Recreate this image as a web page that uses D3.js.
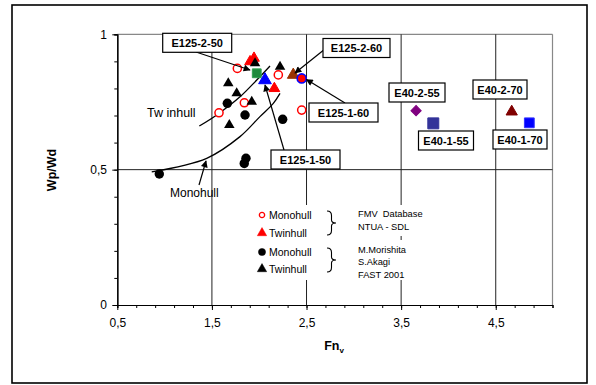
<!DOCTYPE html>
<html><head><meta charset="utf-8">
<script src="https://cdn.jsdelivr.net/npm/d3@7"></script>
<style>body{margin:0;background:#fff} svg{display:block;font-family:"Liberation Sans",Arial,sans-serif}</style>
</head><body><svg id="c" width="596" height="385"></svg>
<script>
// ---- data ----
const xTickValues = [0.5, 1.5, 2.5, 3.5, 4.5];
const xTickLabels = ["0,5", "1,5", "2,5", "3,5", "4,5"];
const yTickValues = [0, 0.5, 1];
const yTickLabels = ["0", "0,5", "1"];

const fmvMonohull = [[1.769,0.874],[2.202,0.850],[1.843,0.747],[1.575,0.710],[2.449,0.720]];
const fmvTwinhull = [[1.903,0.899],[1.945,0.912],[2.160,0.800]];
const morMonohull = [[1.663,0.745],[1.850,0.702],[2.248,0.686],[1.860,0.542],[1.842,0.523],[0.944,0.484]];
const morTwinhull = [[1.956,0.893],[2.220,0.880],[1.673,0.819],[1.762,0.782],[1.921,0.751],[1.684,0.665]];

const designNames = ["E125-2-50","E125-1-50","E125-2-60","E125-1-60","E40-2-55","E40-1-55","E40-2-70","E40-1-70"];
const designFn    = [1.974, 2.061, 2.360, 2.449, 3.658, 3.840, 4.669, 4.855];
const designWp    = [0.856, 0.831, 0.850, 0.837, 0.718, 0.671, 0.714, 0.673];

const twinCurve = [[1.367,0.661],[1.551,0.702],[1.797,0.769],[1.974,0.831],[2.114,0.883]];
const monoCurve = [[0.864,0.492],[1.445,0.542],[1.797,0.622],[2.008,0.696],[2.149,0.745],[2.220,0.782]];

// ---- styles / layout ----
const designStyle = [
  {shape:"square",  size:78,  fill:"#1e8a3c", stroke:"#2fa050"},
  {shape:"triangle",size:70,  fill:"#0000ff", stroke:"#0000ff"},
  {shape:"triangle",size:60,  fill:"#993300", stroke:"#993300"},
  {shape:"circle",  size:64,  fill:"#ff0000", stroke:"#0000ff"},
  {shape:"diamond", size:52,  fill:"#800080", stroke:"#800080"},
  {shape:"square",  size:120, fill:"#333399", stroke:"#333399"},
  {shape:"triangle",size:55,  fill:"#800000", stroke:"#800000"},
  {shape:"square",  size:96,  fill:"#0000ff", stroke:"#3333ff"}
];
const labelLayout = [
  {cx:197.2, cy:42.8, w:69, arrow:[196,52,250,70]},
  {cx:305.5, cy:159.5, w:69, arrow:[284,150,265,85]},
  {cx:356.5, cy:48, w:67, arrow:[325,49,295,73]},
  {cx:343.5, cy:112.5, w:69, arrow:[345,103,306.5,79.5]},
  {cx:417, cy:92.5, w:56},
  {cx:446, cy:140.5, w:55},
  {cx:500, cy:89.5, w:54},
  {cx:520, cy:139.5, w:54}
];

const svg = d3.select("#c");
const x = d3.scaleLinear().domain([0.5, 5.1]).range([117.3, 552.5]);
const y = d3.scaleLinear().domain([0, 1]).range([305, 34.3]);

// outer frame
svg.append("rect").attr("x",12).attr("y",5).attr("width",575).attr("height",378)
  .attr("fill","#fff").attr("stroke","#000").attr("stroke-width",1.6);

// arrow marker
const defs = svg.append("defs");
defs.append("marker").attr("id","ah").attr("viewBox","0 0 10 10").attr("refX",9).attr("refY",5)
  .attr("markerWidth",9).attr("markerHeight",7).attr("markerUnits","userSpaceOnUse").attr("orient","auto")
  .append("path").attr("d","M0,0L10,5L0,10z").attr("fill","#000");

// plot border (top/right) gray
svg.append("line").attr("x1",x(0.5)).attr("x2",x(5.1)).attr("y1",y(1)).attr("y2",y(1)).attr("stroke","#888").attr("stroke-width",1.2);
svg.append("line").attr("x1",x(5.1)).attr("x2",x(5.1)).attr("y1",y(1)).attr("y2",y(0)).attr("stroke","#888").attr("stroke-width",1.2);

// gridlines
svg.append("g").selectAll("line").data(xTickValues.slice(1)).join("line")
  .attr("x1",d=>x(d)).attr("x2",d=>x(d)).attr("y1",y(1)).attr("y2",y(0))
  .attr("stroke","#222").attr("stroke-width",1);
svg.append("line").attr("x1",x(0.5)).attr("x2",x(5.1)).attr("y1",y(0.5)).attr("y2",y(0.5))
  .attr("stroke","#222").attr("stroke-width",1);

// axes
const xMinor = d3.range(0.5, 5.1001, 0.2);
const gx = svg.append("g").attr("transform",`translate(0,${y(0)})`);
gx.call(d3.axisBottom(x).tickValues(xMinor).tickSize(3).tickFormat(""));
gx.append("g").call(d3.axisBottom(x).tickValues(xTickValues).tickSizeInner(5).tickSizeOuter(0)
  .tickFormat((d,i)=>xTickLabels[i]));
gx.selectAll(".domain").attr("stroke","#000").attr("stroke-width",1.2);
gx.selectAll("line").attr("stroke","#000");
gx.selectAll("text").attr("font-size",12).attr("fill","#000").attr("font-family","Liberation Sans, Arial, sans-serif").attr("dy","1.2em");

const yMinor = d3.range(0, 1.0001, 0.1);
const gy = svg.append("g").attr("transform",`translate(${x(0.5)},0)`);
gy.call(d3.axisLeft(y).tickValues(yMinor).tickSize(3).tickFormat(""));
gy.append("g").call(d3.axisLeft(y).tickValues(yTickValues).tickSizeInner(5).tickSizeOuter(0)
  .tickFormat((d,i)=>yTickLabels[i]));
gy.selectAll(".domain").attr("stroke","#000").attr("stroke-width",1.2);
gy.selectAll("line").attr("stroke","#000");
gy.selectAll("text").attr("font-size",12).attr("fill","#000").attr("font-family","Liberation Sans, Arial, sans-serif").attr("dx","-0.2em");

// axis titles
const fnT = svg.append("text").attr("x",334).attr("y",350).attr("text-anchor","middle")
  .attr("font-size",12.5).attr("font-weight","bold");
fnT.append("tspan").text("Fn");
fnT.append("tspan").attr("font-size",8).attr("dy",3).text("v");
svg.append("text").attr("transform","translate(56,170) rotate(-90)").attr("text-anchor","middle")
  .attr("font-size",12.5).attr("font-weight","bold").text("Wp/Wd");

// curves
const line = d3.line().x(d=>x(d[0])).y(d=>y(d[1])).curve(d3.curveCatmullRom.alpha(0.5));
[twinCurve, monoCurve].forEach(c=>{
  svg.append("path").attr("d",line(c)).attr("fill","none").attr("stroke","#000").attr("stroke-width",1.3);
});

// curve annotations
svg.append("text").attr("x",147).attr("y",117).attr("font-size",12.5).text("Tw inhull");
svg.append("text").attr("x",170).attr("y",197).attr("font-size",12).text("Monohull");
svg.append("line").attr("x1",199).attr("y1",185).attr("x2",206).attr("y2",161)
  .attr("stroke","#000").attr("stroke-width",1.2).attr("marker-end","url(#ah)");

// markers
const sym = (shape,size)=>{
  const t = shape==="circle"?d3.symbolCircle:shape==="triangle"?d3.symbolTriangle:d3.symbolSquare;
  return d3.symbol().type(t).size(size)();
};
const gm = svg.append("g");
gm.selectAll(".fm").data(fmvMonohull).join("path")
  .attr("d",sym("circle",52)).attr("transform",d=>`translate(${x(d[0])},${y(d[1])})`)
  .attr("fill","#fff").attr("stroke","#ff0000").attr("stroke-width",1.5);
gm.selectAll(".ft").data(fmvTwinhull).join("path")
  .attr("d",sym("triangle",50)).attr("transform",d=>`translate(${x(d[0])},${y(d[1])})`)
  .attr("fill","#ff0000").attr("stroke","#ff0000");
gm.selectAll(".mm").data(morMonohull).join("path")
  .attr("d",sym("circle",70)).attr("transform",d=>`translate(${x(d[0])},${y(d[1])})`)
  .attr("fill","#000");
gm.selectAll(".mt").data(morTwinhull).join("path")
  .attr("d",sym("triangle",48)).attr("transform",d=>`translate(${x(d[0])},${y(d[1])})`)
  .attr("fill","#000");
gm.selectAll(".dz").data(designNames).join("path")
  .attr("d",(d,i)=>sym(designStyle[i].shape,designStyle[i].size))
  .attr("transform",(d,i)=>`translate(${x(designFn[i])},${y(designWp[i])})`+(designStyle[i].shape==="diamond"?" rotate(45)":""))
  .attr("fill",(d,i)=>designStyle[i].fill).attr("stroke",(d,i)=>designStyle[i].stroke)
  .attr("stroke-width",(d,i)=>designStyle[i].shape==="circle"?1.6:1);

// label boxes with arrows
const gl = svg.append("g");
designNames.forEach((name,i)=>{
  const L = labelLayout[i];
  if (L.arrow) {
    gl.append("line").attr("x1",L.arrow[0]).attr("y1",L.arrow[1]).attr("x2",L.arrow[2]).attr("y2",L.arrow[3])
      .attr("stroke","#000").attr("stroke-width",1.2).attr("marker-end","url(#ah)");
  }
  gl.append("rect").attr("x",L.cx-L.w/2).attr("y",L.cy-9.5).attr("width",L.w).attr("height",19)
    .attr("fill","#fff").attr("stroke","#000").attr("stroke-width",1.2);
  gl.append("text").attr("x",L.cx).attr("y",L.cy+4).attr("text-anchor","middle")
    .attr("font-size",11).attr("font-weight","bold").text(name);
});

// legend
const lg = svg.append("g");
lg.append("rect").attr("x",252).attr("y",205).attr("width",92).attr("height",75).attr("fill","#fff");
lg.append("rect").attr("x",354).attr("y",205).attr("width",72).attr("height",31).attr("fill","#fff");
lg.append("rect").attr("x",354).attr("y",240).attr("width",72).attr("height",40).attr("fill","#fff");
const legItems = [
  {shape:"circle",fill:"#fff",stroke:"#ff0000",size:22,label:"Monohull",yy:215},
  {shape:"triangle",fill:"#ff0000",stroke:"#ff0000",size:38,label:"Twinhull",yy:233},
  {shape:"circle",fill:"#000",stroke:"#000",size:40,label:"Monohull",yy:252},
  {shape:"triangle",fill:"#000",stroke:"#000",size:38,label:"Twinhull",yy:269}
];
legItems.forEach(it=>{
  lg.append("path").attr("d",sym(it.shape,it.size)).attr("transform",`translate(262,${it.yy})`)
    .attr("fill",it.fill).attr("stroke",it.stroke).attr("stroke-width",it.fill==="#fff"?1.3:0.5);
  lg.append("text").attr("x",269).attr("y",it.yy+4).attr("font-size",10.5).text(it.label);
});
const brace = (x0,y0,y1)=>{
  const m=(y0+y1)/2, r=4.5;
  return `M${x0},${y0} Q${x0+r},${y0} ${x0+r},${y0+r} L${x0+r},${m-r+1.5} Q${x0+r},${m} ${x0+2*r},${m} Q${x0+r},${m} ${x0+r},${m+r-1.5} L${x0+r},${y1-r} Q${x0+r},${y1} ${x0},${y1}`;
};
lg.append("path").attr("d",brace(327,211,235)).attr("fill","none").attr("stroke","#000").attr("stroke-width",1.1);
lg.append("path").attr("d",brace(327,248,272)).attr("fill","none").attr("stroke","#000").attr("stroke-width",1.1);
const srcText = [["FMV\u00a0\u00a0Database",216.5],["NTUA - SDL",229.5],["M.Morishita",252.5],["S.Akagi",265],["FAST 2001",278]];
srcText.forEach(t=>{
  lg.append("text").attr("x",358).attr("y",t[1]).attr("font-size",9.3).text(t[0]);
});
</script></body></html>
